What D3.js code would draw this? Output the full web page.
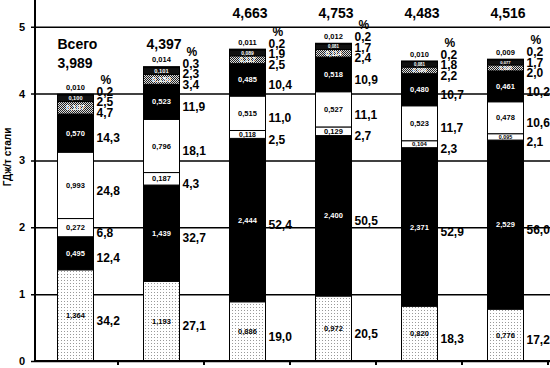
<!DOCTYPE html>
<html>
<head>
<meta charset="utf-8">
<script src="https://cdn.jsdelivr.net/npm/d3@7/dist/d3.min.js"></script>
<style>
  body { margin: 0; background: #fff; }
  text { font-family: "Liberation Sans", Arial, sans-serif; font-weight: bold; }
</style>
</head>
<body>
<script>
// ---- data ----
const categories = ["1", "2", "3", "4", "5", "6"];
const totals = ["3,989", "4,397", "4,663", "4,753", "4,483", "4,516"];
const totalValues = [3.989, 4.397, 4.663, 4.753, 4.483, 4.516];
const yTicks = [0, 1, 2, 3, 4, 5];

// segment values, GJ/t, bottom to top
const s1 = [1.364, 1.193, 0.886, 0.972, 0.820, 0.776];
const s2 = [0.495, 1.439, 2.444, 2.400, 2.371, 2.529];
const s3 = [0.272, 0.187, 0.118, 0.129, 0.104, 0.095];
const s4 = [0.993, 0.796, 0.515, 0.527, 0.523, 0.478];
const s5 = [0.570, 0.523, 0.485, 0.518, 0.480, 0.461];
const s6 = [0.187, 0.150, 0.117, 0.114, 0.099, 0.090];
const s7 = [0.100, 0.101, 0.089, 0.081, 0.081, 0.077];
const s8 = [0.010, 0.014, 0.011, 0.012, 0.010, 0.009];

// shares, %
const p1 = [34.2, 27.1, 19.0, 20.5, 18.3, 17.2];
const p2 = [12.4, 32.7, 52.4, 50.5, 52.9, 56.0];
const p3 = [6.8, 4.3, 2.5, 2.7, 2.3, 2.1];
const p4 = [24.8, 18.1, 11.0, 11.1, 11.7, 10.6];
const p5 = [14.3, 11.9, 10.4, 10.9, 10.7, 10.2];
const p6 = [4.7, 3.4, 2.5, 2.4, 2.2, 2.0];
const p7 = [2.5, 2.3, 1.9, 1.7, 1.8, 1.7];
const p8 = [0.2, 0.3, 0.2, 0.2, 0.2, 0.2];

const seriesVals = [s1, s2, s3, s4, s5, s6, s7, s8];
const seriesPct = [p1, p2, p3, p4, p5, p6, p7, p8];
const keys = ["s1", "s2", "s3", "s4", "s5", "s6", "s7", "s8"];

// ---- build table ----
const rows = categories.map((c, i) => {
  const r = { cat: c };
  keys.forEach((k, j) => r[k] = seriesVals[j][i]);
  return r;
});
const stacked = d3.stack().keys(keys)(rows);

// ---- svg ----
const W = 550, H = 368;
const svg = d3.select("body").append("svg").attr("width", W).attr("height", H);

const defs = svg.append("defs");
const dots = defs.append("pattern").attr("id", "dots").attr("patternUnits", "userSpaceOnUse")
  .attr("width", 3).attr("height", 3);
dots.append("rect").attr("width", 3).attr("height", 3).attr("fill", "#fff");
dots.append("rect").attr("x", 1).attr("y", 1).attr("width", 1).attr("height", 1).attr("fill", "#999");
const chk = defs.append("pattern").attr("id", "chk").attr("patternUnits", "userSpaceOnUse")
  .attr("width", 2).attr("height", 2);
chk.append("rect").attr("width", 2).attr("height", 2).attr("fill", "#ddd");
chk.append("rect").attr("width", 1).attr("height", 1).attr("fill", "#222");
chk.append("rect").attr("x", 1).attr("y", 1).attr("width", 1).attr("height", 1).attr("fill", "#222");

const fills = ["url(#dots)", "#000", "#fff", "#fff", "#000", "url(#chk)", "#111", "#000"];
const innerColor = ["#000", "#fff", "#000", "#000", "#fff", "#fff", "#fff", "#000"];

const axisX = 35, plotRight = 550;
const x = d3.scaleBand().domain(categories).range([32, 548]).paddingInner(0).paddingOuter(0);
const y = d3.scaleLinear().domain([0, 5.4]).range([361, 0]);
const barOff = 25.5, barW = 36;

// gridlines + y axis
const yAxis = svg.append("g").attr("transform", `translate(${axisX},0)`)
  .call(d3.axisLeft(y).tickValues(yTicks).tickSize(-(plotRight - axisX)).tickSizeOuter(0).tickPadding(10).tickFormat(d3.format("d")));
yAxis.select(".domain").remove();
yAxis.selectAll(".tick line").attr("x1", -4).attr("stroke", "#000").attr("stroke-width", 1.5);
yAxis.selectAll(".tick text").attr("font-size", 11).attr("font-weight", "bold").attr("fill", "#000")
  .style("font-family", "'Liberation Sans', Arial, sans-serif");

// bars
const bars = svg.append("g");
stacked.forEach((layer, j) => {
  bars.selectAll(null).data(layer).enter().append("rect")
    .attr("x", d => x(d.data.cat) + barOff)
    .attr("width", barW)
    .attr("y", d => y(d[1]))
    .attr("height", d => y(d[0]) - y(d[1]))
    .attr("fill", fills[j])
    .attr("stroke", "#000")
    .attr("stroke-width", 1);
});

// axis lines on top
svg.append("line").attr("x1", axisX).attr("x2", axisX).attr("y1", 0).attr("y2", y(0))
  .attr("stroke", "#000").attr("stroke-width", 2);
svg.append("line").attr("x1", axisX).attr("x2", plotRight).attr("y1", y(0)).attr("y2", y(0))
  .attr("stroke", "#000").attr("stroke-width", 2);
svg.selectAll(null).data(categories).enter().append("line")
  .attr("x1", d => x(d) + x.bandwidth()).attr("x2", d => x(d) + x.bandwidth())
  .attr("y1", y(0)).attr("y2", y(0) + 4).attr("stroke", "#000").attr("stroke-width", 2);

// inner value labels
const fmt3 = v => d3.format(".3f")(v).replace(".", ",");
const fmt1 = v => d3.format(".1f")(v).replace(".", ",");
stacked.forEach((layer, j) => {
  if (j === 7) return;
  svg.selectAll(null).data(layer).enter().append("text")
    .attr("x", d => x(d.data.cat) + barOff + barW / 2)
    .attr("y", d => (y(d[0]) + y(d[1])) / 2)
    .attr("dy", "0.35em")
    .attr("text-anchor", "middle")
    .attr("font-size", d => Math.max(4, Math.min(7.5, (y(d[0]) - y(d[1])) - 1)))
    .attr("fill", innerColor[j])
    .text(d => fmt3(d[1] - d[0]));
});
// top segment value above bar
svg.selectAll(null).data(stacked[7]).enter().append("text")
  .attr("x", d => x(d.data.cat) + barOff + barW / 2)
  .attr("y", d => y(d[1]) - 7)
  .attr("dy", "0.35em")
  .attr("text-anchor", "middle")
  .attr("font-size", 7.5)
  .attr("fill", "#000")
  .text(d => fmt3(d[1] - d[0]));

// percent labels at right with overlap avoidance
categories.forEach((c, i) => {
  let prev = Infinity;
  const lx = x(c) + barOff + barW + 3;
  stacked.forEach((layer, j) => {
    const d = layer[i];
    const cy = (y(d[0]) + y(d[1])) / 2 + 5;
    const ly = Math.min(cy, prev - 10.5);
    prev = ly;
    svg.append("text").attr("x", lx).attr("y", ly).attr("dy", "0.35em")
      .attr("font-size", 12).attr("fill", "#000").text(fmt1(seriesPct[j][i]));
  });
  // "%" header
  svg.append("text").attr("x", lx + 4).attr("y", prev - 12).attr("dy", "0.35em")
    .attr("font-size", 12).attr("fill", "#000").text("%");
  // totals
  const tx = x(c) + barOff + 3;
  if (i === 0) {
    svg.append("text").attr("x", x(c) + barOff).attr("y", y(5) + 17).attr("dy", "0.35em")
      .attr("font-size", 14).text("Всего");
    svg.append("text").attr("x", x(c) + barOff).attr("y", y(5) + 36).attr("dy", "0.35em")
      .attr("font-size", 14).text(totals[i]);
  } else {
    const ty = totalValues[i] > 4.45 ? y(5) - 14 : y(5) + 17;
    svg.append("text").attr("x", tx).attr("y", ty).attr("dy", "0.35em")
      .attr("font-size", 14).text(totals[i]);
  }
});

// y title
svg.append("text")
  .attr("transform", `translate(11,${157}) rotate(-90)`)
  .attr("text-anchor", "middle")
  .attr("font-size", 10)
  .text("ГДж/т стали");
</script>
</body>
</html>
